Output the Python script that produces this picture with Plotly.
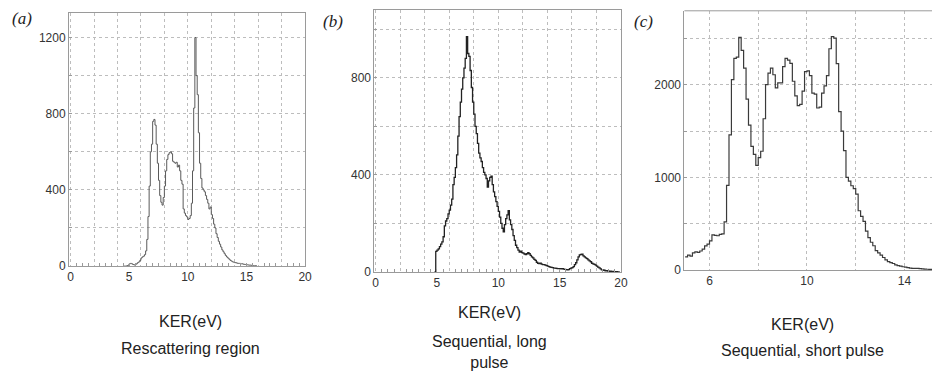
import numpy as np
import plotly.graph_objects as go

W, H = 939, 385
BIN = 0.1

# ---- Panel (a): Rescattering region ----
a_start = 4.5
a_counts = [0, 0, 0, 2, 5, 12, 14, 12, 8, 6,
            8, 12, 18, 22, 30, 42, 48, 52, 60, 80,
            140, 260, 420, 600, 640, 760, 770, 740, 640, 540,
            450, 370, 335, 320, 360, 420, 500, 560, 585, 595,
            600, 590, 550, 545, 540, 545, 520, 530, 500, 450,
            430, 300, 278, 265, 258, 245, 250, 265, 330, 500,
            830, 1200, 1000, 900, 700, 540, 460, 410, 400, 390,
            370, 350, 330, 300, 310, 270, 250, 220, 200, 170,
            150, 130, 115, 100, 85, 75, 65, 55, 48, 42,
            36, 30, 26, 22, 20, 18, 17, 15, 14, 14,
            12, 12, 10, 9, 8, 7, 6, 5, 5, 4,
            3, 2, 2, 1, 1]

# ---- Panel (b): Sequential, long pulse ----
b_start = 4.8
b_counts = [0, 85, 90, 95, 104, 115, 124, 145, 190, 210,
            220, 239, 255, 275, 300, 360, 390, 430, 482, 560,
            640, 700, 753, 800, 840, 880, 969, 900, 888, 830,
            760, 700, 650, 600, 570, 530, 490, 470, 455, 430,
            410, 400, 385, 350, 375, 390, 395, 360, 330, 310,
            290, 270, 250, 226, 200, 180, 165, 195, 220, 235,
            253, 215, 195, 175, 150, 130, 110, 100, 90, 82,
            86, 80, 78, 74, 72, 75, 80, 75, 68, 62,
            58, 52, 48, 40, 36, 34, 36, 32, 30, 30,
            28, 26, 24, 22, 20, 19, 18, 16, 16, 15,
            14, 14, 14, 13, 14, 12, 11, 10, 9, 10,
            14, 16, 18, 22, 30, 38, 50, 62, 70, 72,
            73, 66, 62, 58, 55, 50, 46, 42, 36, 33,
            31, 28, 24, 20, 17, 13, 9, 8, 7, 5,
            5, 4, 3, 3, 2, 2, 1, 1, 1, 0,
            0, 0]

# ---- Panel (c): Sequential, short pulse ----
c_start = 5.0
c_counts = [142, 160, 150, 185, 195, 190, 205, 225, 260, 280,
            315, 380, 375, 370, 385, 390, 520, 914, 1460, 2056,
            2285, 2300, 2513, 2372, 2180, 1845, 1564, 1336, 1248, 1130,
            1213, 1283, 1634, 2003, 2127, 2180, 2109, 1968, 2021, 2021,
            2197, 2285, 2267, 2232, 2039, 1880, 1775, 1790, 1933, 2144,
            2150, 2100, 1910, 1900, 1750, 1760, 1910, 1990, 2100, 2390,
            2520, 2505, 2230, 1710, 1500, 1290, 1000, 960, 910, 880,
            820, 640, 580, 525, 420, 350, 300, 262, 210, 185,
            160, 135, 110, 90, 80, 70, 55, 48, 42, 35,
            30, 25, 20, 18, 18, 17, 15, 12, 10, 8,
            7, 6, 5, 5]

x_title = "KER(eV)"
subtitles = ["Rescattering region", "Sequential, long<br>pulse", "Sequential, short pulse"]
panel_tags = ["(a)", "(b)", "(c)"]


def edges(start, n):
    return [round(start + BIN * i, 2) for i in range(n)]


fig = go.Figure()
line_cols = ["#5a5a5a", "#222222", "#3a3a3a"]
widths = [1.0, 1.3, 1.2]
for i, (st, cnt) in enumerate([(a_start, a_counts), (b_start, b_counts), (c_start, c_counts)]):
    ax = "" if i == 0 else str(i + 1)
    fig.add_trace(go.Scatter(x=edges(st, len(cnt)), y=cnt, mode="lines",
                             line=dict(shape="hv", color=line_cols[i], width=widths[i]),
                             xaxis="x" + ax, yaxis="y" + ax, showlegend=False,
                             hoverinfo="skip"))
# dummy traces for overlay grid axes
for xa, ya in [("x4", "y"), ("x5", "y2")]:
    fig.add_trace(go.Scatter(x=[None], y=[None], xaxis=xa, yaxis=ya, showlegend=False,
                             hoverinfo="skip"))

frame = "#9a9a9a"
gridc = "#bdbdbd"
tickfont = dict(family="Liberation Sans, Arial", size=12, color="#333333")


def px_x(p):
    return p / W


def px_y(p):
    return 1 - p / H


def xmain(dom, rng, dtick, grid, anchor, tick0=0):
    d = dict(domain=dom, range=rng, anchor=anchor, showline=True, linecolor=frame,
             linewidth=1, mirror=True, ticks="", tickfont=tickfont, zeroline=False,
             showgrid=grid, gridcolor=gridc, griddash="dot", gridwidth=1, dtick=dtick, tick0=tick0)
    return d


def ymain(dom, rng, dtick, anchor, mirror=True):
    return dict(domain=dom, range=rng, anchor=anchor, showline=True, linecolor=frame,
                linewidth=1, mirror=mirror, ticks="inside", ticklen=3, tickcolor=frame,
                tickfont=tickfont, zeroline=False, showgrid=True, gridcolor=gridc,
                griddash="dot", gridwidth=1, dtick=dtick, tick0=0,
                minor=dict(dtick=dtick / 2, showgrid=True, gridcolor=gridc, griddash="dot",
                           ticks="inside", ticklen=3, tickcolor=frame))


dom_a = [px_x(67.7), px_x(306)]
dom_b = [px_x(376), px_x(625)]
dom_c = [px_x(689), 1.0]
ydom_a = [px_y(271), px_y(13)]
ydom_b = [px_y(277), px_y(10)]
ydom_c = [px_y(275), px_y(11)]

overlay_grid = dict(showgrid=True, gridcolor=gridc, griddash="dot", gridwidth=1, dtick=2,
                    tick0=0, showticklabels=False, ticks="", showline=False, zeroline=False,
                    minor=dict(dtick=0.5, ticks="inside", ticklen=3, tickcolor=frame))

fig.update_layout(
    width=W, height=H, margin=dict(l=0, r=0, t=0, b=0),
    paper_bgcolor="white", plot_bgcolor="white",
    xaxis=xmain(dom_a, [-0.13, 20], 5, False, "y"),
    yaxis=ymain(ydom_a, [0, 1330], 400, "x"),
    xaxis2=xmain(dom_b, [-0.1, 20], 5, False, "y2"),
    yaxis2=ymain(ydom_b, [0, 1080], 400, "x2"),
    xaxis3=dict(xmain(dom_c, [4.97, 15.13], 4, True, "y3", tick0=6),
                mirror=False,
                minor=dict(dtick=2, tick0=6, showgrid=True, gridcolor=gridc, griddash="dot")),
    yaxis3=ymain(ydom_c, [0, 2800], 1000, "x3", mirror=False),
    xaxis4=dict(overlay_grid, overlaying="x", anchor="y", range=[-0.13, 20]),
    xaxis5=dict(overlay_grid, overlaying="x2", anchor="y2", range=[-0.1, 20]),
)

# top frame line for panel (c) (right side is cut off by the image edge)
fig.add_shape(type="line", xref="x3 domain", yref="y3 domain", x0=0, x1=1, y0=1, y1=1,
              line=dict(color=frame, width=1))

tag_font = dict(family="Liberation Serif, Times New Roman", size=17, color="#222222")
tag_pos = [(20, 19), (334, 22), (648, 22)]
for t, (px, py) in zip(panel_tags, tag_pos):
    fig.add_annotation(text="<i>%s</i>" % t, x=px_x(px), y=px_y(py), xref="paper", yref="paper",
                       showarrow=False, font=tag_font, xanchor="center", yanchor="middle")

lab_font = dict(family="Liberation Sans, Arial", size=16, color="#222222")
title_pos = [(190, 327), (492, 318), (808, 331)]
sub_pos = [(190, 355), (492, 359), (808, 357)]
for (tx, ty), (sx, sy), sub in zip(title_pos, sub_pos, subtitles):
    fig.add_annotation(text=x_title, x=px_x(tx), y=px_y(ty), xref="paper", yref="paper",
                       showarrow=False, font=lab_font, xanchor="center", yanchor="middle")
    fig.add_annotation(text=sub, x=px_x(sx), y=px_y(sy), xref="paper", yref="paper",
                       showarrow=False, font=lab_font, xanchor="center", yanchor="middle")

fig.write_html("out.html")
